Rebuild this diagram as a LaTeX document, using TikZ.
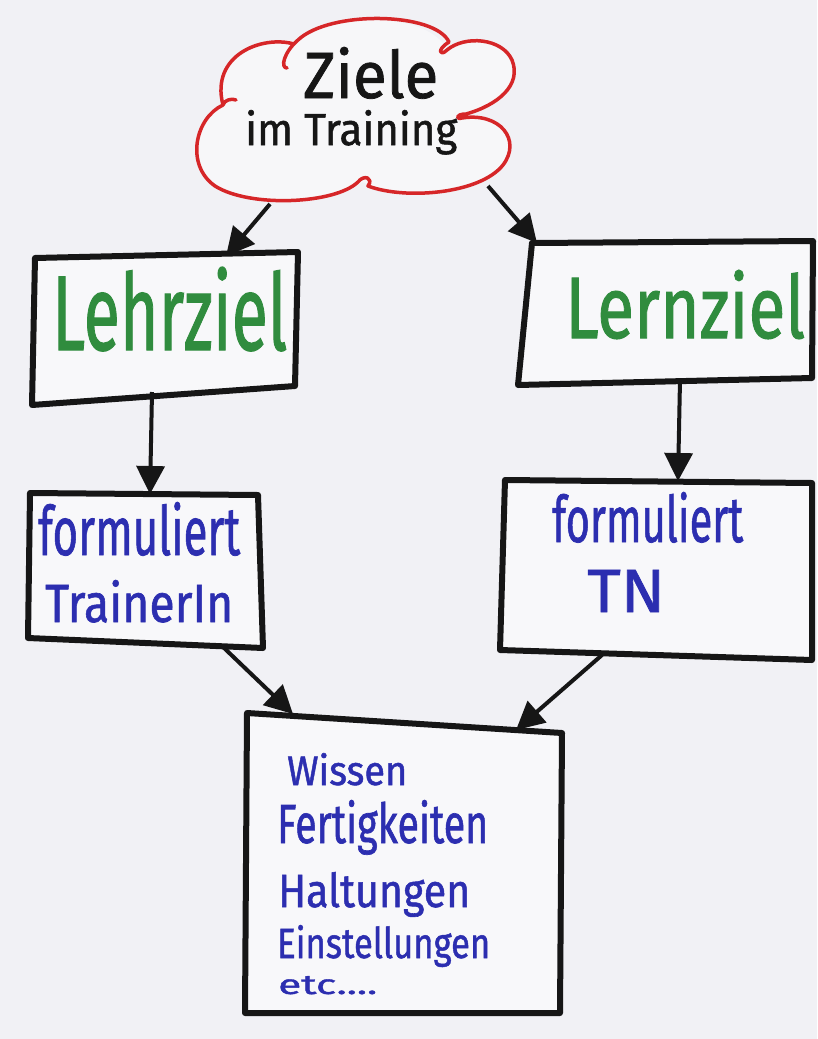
\documentclass[tikz,border=0pt]{standalone}
\usepackage{fontspec}
\setmainfont{Fira Sans}
\newfontfamily\mk{Fira Sans}[FakeBold=1.2]
\usepackage{graphicx}
\usetikzlibrary{arrows.meta}
\definecolor{paper}{RGB}{241,241,245}
\definecolor{cloudred}{RGB}{214,38,40}
\definecolor{markgreen}{RGB}{48,140,62}
\definecolor{markblue}{RGB}{44,46,176}
\definecolor{ink}{RGB}{22,22,22}
\newcommand{\hw}[3]{\resizebox{#1pt}{#2pt}{\mk #3}}
\tikzset{
  handbox/.style={draw=ink, line width=6pt, line join=round, fill=white, fill opacity=0.55, draw opacity=1},
  cloudline/.style={draw=cloudred, line width=3.5pt, line cap=round, line join=round},
  hand/.style={inner sep=0pt, anchor=base west},
  title/.style={hand, text=ink},
  green/.style={hand, text=markgreen},
  blue/.style={hand, text=markblue},
  conn/.style={draw=ink, line width=4pt, -{Triangle[length=28pt,width=28pt]}},
}
\begin{document}
\begin{tikzpicture}[x=1pt,y=-1pt]
\useasboundingbox (0,0) rectangle (817,1039);
\fill[paper] (0,0) rectangle (817,1039);

% cloud
\fill[white, opacity=0.45]
  (223,105) .. controls (195,118) and (185,165) .. (215,186)
  .. controls (250,208) and (335,204) .. (362,182)
  .. controls (405,200) and (480,194) .. (503,165)
  .. controls (522,140) and (500,112) .. (462,118)
  .. controls (495,105) and (522,85) .. (512,60)
  .. controls (502,38) and (465,35) .. (447,50)
  .. controls (430,12) and (330,10) .. (296,42)
  .. controls (262,35) and (210,55) .. cycle;
\draw[cloudline]
  (223,105) .. controls (195,118) and (185,165) .. (215,186)
  .. controls (250,208) and (335,204) .. (358,182)
  .. controls (364,174) and (374,178) .. (368,186)
  .. controls (405,200) and (480,194) .. (503,165)
  .. controls (522,140) and (500,112) .. (462,118)
  .. controls (456,120) and (455,114) .. (466,114)
  .. controls (498,105) and (522,85) .. (512,60)
  .. controls (502,38) and (465,35) .. (447,50)
  .. controls (440,57) and (436,50) .. (449,42)
  .. controls (435,12) and (330,10) .. (298,40)
  .. controls (284,52) and (280,68) .. (287,68)
  (294,44) .. controls (262,35) and (210,55) .. (223,105)
  .. controls (224,100) and (232,98) .. (236,100);

% boxes (hand drawn quadrilaterals)
\draw[handbox] (35,258) -- (298,252) -- (295,386) -- (32,405) -- cycle;
\draw[handbox] (532,243) -- (813,241) -- (812,378) -- (518,385) -- cycle;
\draw[handbox] (30,493) -- (258,495) -- (263,648) -- (28,638) -- cycle;
\draw[handbox] (505,480) -- (812,483) -- (812,660) -- (500,650) -- cycle;
\draw[handbox] (247,713) -- (562,733) -- (560,1013) -- (245,1013) -- cycle;

% texts
\node[title] (ziele) at (303,98) {\hw{135}{51}{Ziele}};
\node[title] (training) at (245,145) {\hw{212}{35}{im Training}};
\node[green] (lehrziel) at (52,350) {\hw{235}{83}{Lehrziel}};
\node[green] (lernziel) at (565,338) {\hw{240}{68}{Lernziel}};
\node[blue] (formL) at (38,555) {\hw{202}{53}{formuliert}};
\node[blue] (trainer) at (45,622) {\hw{188}{42}{TrainerIn}};
\node[blue] (formR) at (552,542) {\hw{191}{50}{formuliert}};
\node[blue] (tn) at (587,612) {\hw{78}{42}{TN}};
\node[blue] (wissen) at (287,785) {\hw{120}{32}{Wissen}};
\node[blue] (fertig) at (277,843) {\hw{211}{43}{Fertigkeiten}};
\node[blue] (haltung) at (278,907) {\hw{192}{35}{Haltungen}};
\node[blue] (einst) at (277,958) {\hw{213}{33}{Einstellungen}};
\node[blue] (etc) at (278,994) {\hw{99}{18}{etc....}};

% connector end points
\coordinate (cloudL) at (270,204);
\coordinate (cloudR) at (488,186);
\coordinate (lehrTop) at (226,256);
\coordinate (lernTop) at (537,243);
\coordinate (lehrBot) at (152,392);
\coordinate (lernBot) at (680,380);
\coordinate (trainTop) at (150,494);
\coordinate (tnTop) at (678,481);
\coordinate (trainBot) at (222,646);
\coordinate (tnBot) at (602,655);
\coordinate (wissTopL) at (293,714);
\coordinate (wissTopR) at (516,730);

\draw[conn] (cloudL) -- (lehrTop);
\draw[conn] (cloudR) -- (lernTop);
\draw[conn] (lehrBot) -- (trainTop);
\draw[conn] (lernBot) -- (tnTop);
\draw[conn] (trainBot) -- (wissTopL);
\draw[conn] (tnBot) -- (wissTopR);
\end{tikzpicture}
\end{document}
